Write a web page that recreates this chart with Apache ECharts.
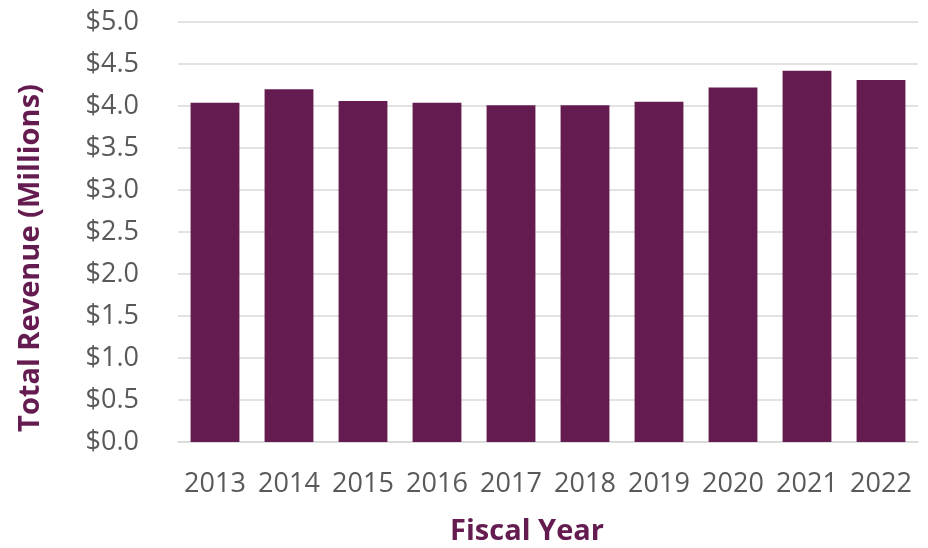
<!DOCTYPE html>
<html>
<head>
<meta charset="utf-8">
<script src="https://cdn.jsdelivr.net/npm/echarts@6/dist/echarts.min.js"></script>
<style>
  html, body { margin: 0; padding: 0; background: #ffffff; }
  #chart { width: 928px; height: 548px; }
</style>
</head>
<body>
<div id="chart"></div>
<script>
// Fiscal years and total revenue in millions of dollars
const fiscalYears = ['2013', '2014', '2015', '2016', '2017', '2018', '2019', '2020', '2021', '2022'];
const totalRevenue = [4.04, 4.20, 4.06, 4.04, 4.01, 4.01, 4.05, 4.22, 4.42, 4.31];

const plum = '#641C50';
const tickGrey = '#595959';
const fontFamily = '"Open Sans", "Noto Sans", sans-serif';

const chart = echarts.init(document.getElementById('chart'), null, { renderer: 'canvas' });

chart.setOption({
  animation: false,
  backgroundColor: '#ffffff',
  grid: {
    left: 178, right: 10, top: 22, bottom: 106,
    containLabel: false,
    outerBoundsMode: 'none'
  },
  xAxis: {
    type: 'category',
    data: fiscalYears,
    name: 'Fiscal Year',
    nameLocation: 'middle',
    nameGap: 75,
    nameTextStyle: {
      color: plum, fontSize: 29, fontWeight: 'bold', fontFamily: fontFamily,
      padding: [0, 42, 0, 0]
    },
    axisLine: { show: true, lineStyle: { color: '#d9d9d9', width: 1.5 } },
    axisTick: { show: false },
    axisLabel: { color: tickGrey, fontSize: 27, fontFamily: fontFamily, margin: 29, interval: 0 }
  },
  yAxis: {
    type: 'value',
    min: 0,
    max: 5,
    interval: 0.5,
    name: 'Total Revenue (Millions)',
    nameLocation: 'middle',
    nameRotate: 90,
    nameGap: 133,
    nameTextStyle: {
      color: plum, fontSize: 29, fontWeight: 'bold', fontFamily: fontFamily,
      padding: [0, 52, 0, 0]
    },
    axisLine: { show: false },
    axisTick: { show: false },
    splitLine: { show: true, lineStyle: { color: '#d9d9d9', width: 1.5 } },
    axisLabel: {
      color: tickGrey, fontSize: 27, fontFamily: fontFamily, margin: 39,
      formatter: function (v) { return '$' + v.toFixed(1); }
    }
  },
  series: [{
    type: 'bar',
    data: totalRevenue,
    barCategoryGap: '34%',
    itemStyle: { color: plum }
  }]
});
</script>
</body>
</html>
